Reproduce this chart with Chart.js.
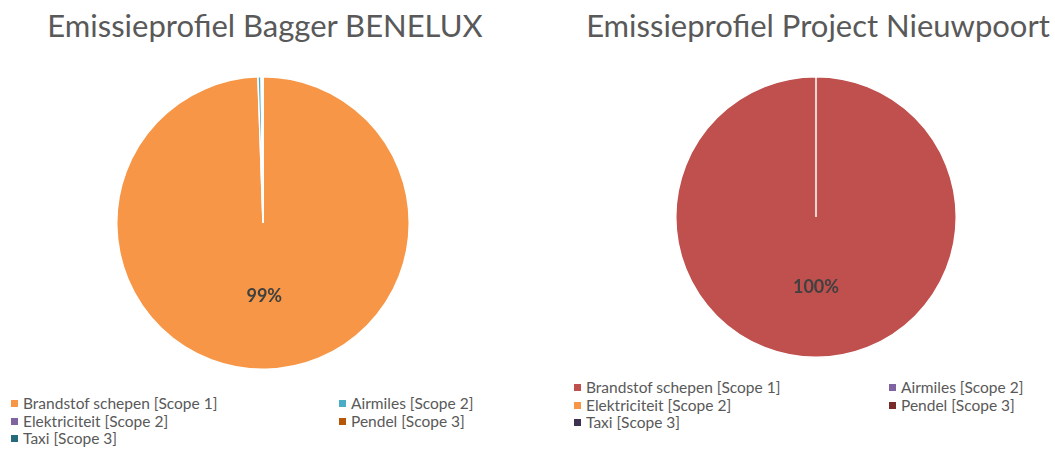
<!DOCTYPE html>
<html lang="nl">
<head>
    <meta charset="UTF-8">
    <title>Emissieprofiel</title>
    <style>
        body { margin: 0; width: 1055px; height: 452px; background: #fff; font-family: Lato, "Open Sans", sans-serif; position: relative; overflow: hidden; }
        .title { position: absolute; top: 6px; color: #595959; font-size: 31px; white-space: nowrap; text-align: center; }
        .pie { position: absolute; }
        .legend { position: absolute; display: grid; grid-template-columns: 328px 200px; row-gap: 0; color: #595959; font-size: 15.5px; line-height: 17.5px; }
        .legend span { display: flex; align-items: center; white-space: nowrap; }
        .legend i { display: inline-block; width: 7px; height: 7px; margin-right: 5px; }
    </style>
</head>
<body>
    <div class="title" style="left: 15px; width: 500px;">Emissieprofiel Bagger BENELUX</div>
    <div class="title" style="left: 568px; width: 500px;">Emissieprofiel Project Nieuwpoort</div>
    <div class="pie" style="left: 116px; top: 76px; width: 294px; height: 294px;"><canvas id="pieLeft"></canvas></div>
    <div class="pie" style="left: 675px; top: 76px; width: 282px; height: 282px;"><canvas id="pieRight"></canvas></div>
    <div class="legend" id="legendLeft" style="left: 11px; top: 395px;"></div>
    <div class="legend" id="legendRight" style="left: 574px; top: 379px; grid-template-columns: 315px 200px;"></div>

    <script src="https://cdn.jsdelivr.net/npm/chart.js"></script>
    <script>
        const categories = ['Brandstof schepen [Scope 1]', 'Airmiles [Scope 2]', 'Elektriciteit [Scope 2]', 'Pendel [Scope 3]', 'Taxi [Scope 3]'];
        const benelux = [99.45, 0.35, 0.1, 0.05, 0.05];
        const nieuwpoort = [100, 0, 0, 0, 0];
        const coloursLeft = ['#F79646', '#4BACC6', '#8064A2', '#B65708', '#276A7C'];
        const coloursRight = ['#C0504D', '#8064A2', '#F79646', '#772C2A', '#3F3151'];

        // percentage label in the middle of the big slices
        const pctLabels = {
            id: 'pctLabels',
            afterDatasetsDraw(chart) {
                const ctx = chart.ctx;
                const meta = chart.getDatasetMeta(0);
                const data = chart.data.datasets[0].data;
                const total = data.reduce((a, b) => a + b, 0);
                ctx.save();
                ctx.font = 'bold 18px Lato, "Open Sans", sans-serif';
                ctx.fillStyle = '#404040';
                ctx.textAlign = 'center';
                ctx.textBaseline = 'middle';
                meta.data.forEach((arc, i) => {
                    const pct = data[i] / total * 100;
                    if (pct < 5) return;
                    const p = arc.tooltipPosition();
                    ctx.fillText(Math.round(pct) + '%', p.x, p.y);
                });
                ctx.restore();
            }
        };

        function makePie(id, values, colours) {
            return new Chart(document.getElementById(id), {
                type: 'pie',
                data: {
                    labels: categories,
                    datasets: [{ data: values, backgroundColor: colours, borderColor: '#fff', borderWidth: 1.5 }]
                },
                options: {
                    responsive: true,
                    maintainAspectRatio: false,
                    animation: false,
                    layout: { padding: 0 },
                    plugins: { legend: { display: false }, tooltip: { enabled: false } }
                },
                plugins: [pctLabels]
            });
        }

        function buildLegend(chart, elId) {
            const el = document.getElementById(elId);
            const items = Chart.overrides.pie.plugins.legend.labels.generateLabels(chart);
            items.forEach(item => {
                const span = document.createElement('span');
                const box = document.createElement('i');
                box.style.background = item.fillStyle;
                span.appendChild(box);
                span.appendChild(document.createTextNode(item.text));
                el.appendChild(span);
            });
        }

        const left = makePie('pieLeft', benelux, coloursLeft);
        const right = makePie('pieRight', nieuwpoort, coloursRight);
        buildLegend(left, 'legendLeft');
        buildLegend(right, 'legendRight');
    </script>
</body>
</html>
